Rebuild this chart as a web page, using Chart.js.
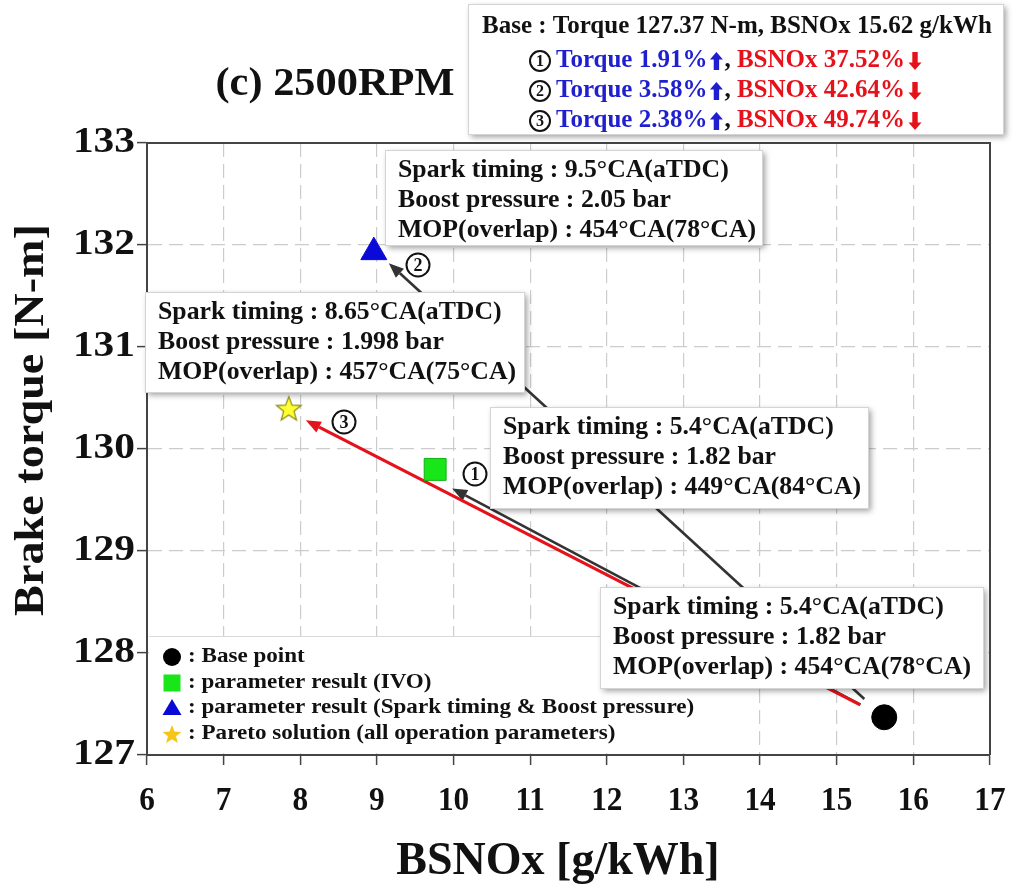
<!DOCTYPE html>
<html>
<head>
<meta charset="utf-8">
<script src="https://cdn.jsdelivr.net/npm/chart.js@4.4.0/dist/chart.umd.min.js"></script>
<style>
  html, body { margin: 0; padding: 0; background: #fff; }
  #wrap { width: 1016px; height: 896px; }
</style>
</head>
<body>
<div id="wrap"><canvas id="torqueChart" width="1016" height="896"></canvas></div>
<script>
(function () {
    "use strict";

    // operating points: base, IVO, spark timing & boost, pareto
    var pointNames = ["Base point", "parameter result (IVO)", "parameter result (Spark timing & Boost pressure)", "Pareto solution (all operation parameters)"];
    var bsnoxValues = [15.62, 9.76, 8.96, 7.85];
    var torqueValues = [127.37, 129.80, 131.93, 130.40];

    var xTicks = [6, 7, 8, 9, 10, 11, 12, 13, 14, 15, 16, 17];
    var yTicks = [127, 128, 129, 130, 131, 132, 133];

    // summary of the three results against the base point
    var baseTorque = "127.37";
    var baseBsnox = "15.62";
    var torqueGain = ["1.91", "3.58", "2.38"];
    var bsnoxDrop = ["37.52", "42.64", "49.74"];

    // operating parameters for each point
    var sparkTiming = ["5.4", "5.4", "9.5", "8.65"];
    var boostPressure = ["1.82", "1.82", "2.05", "1.998"];
    var mopAngle = ["454", "449", "454", "457"];
    var overlapAngle = ["78", "84", "78", "75"];

    var FONT = '"Liberation Serif", "Times New Roman", serif';
    var BLUE = "#1f1fd0";
    var RED = "#e5121b";

    function text(ctx, str, x, y, size, color, align, sx) {
        sx = sx || 1;
        ctx.save();
        ctx.font = "bold " + size + "px " + FONT;
        ctx.fillStyle = color;
        ctx.textBaseline = "middle";
        ctx.textAlign = "left";
        var w = ctx.measureText(str).width * sx;
        var left = align === "center" ? x - w / 2 : (align === "right" ? x - w : x);
        ctx.translate(left, y);
        ctx.scale(sx, 1);
        ctx.fillText(str, 0, 0);
        ctx.restore();
        return w;
    }

    function circledNumber(ctx, n, x, y, r) {
        ctx.save();
        ctx.beginPath();
        ctx.arc(x, y, r, 0, Math.PI * 2);
        ctx.lineWidth = 2;
        ctx.strokeStyle = "#111";
        ctx.stroke();
        ctx.restore();
        text(ctx, String(n), x, y + 1, Math.round(r * 1.55), "#111", "center");
    }

    function blockArrow(ctx, x, y, up, color) {
        // small filled arrow icon, 13 wide and 18 tall, centred on x
        var d = up ? -1 : 1;
        ctx.save();
        ctx.fillStyle = color;
        ctx.beginPath();
        ctx.moveTo(x, y + d * 9);
        ctx.lineTo(x + 6.5, y + d * 1.5);
        ctx.lineTo(x + 2.7, y + d * 1.5);
        ctx.lineTo(x + 2.7, y - d * 9);
        ctx.lineTo(x - 2.7, y - d * 9);
        ctx.lineTo(x - 2.7, y + d * 1.5);
        ctx.lineTo(x - 6.5, y + d * 1.5);
        ctx.closePath();
        ctx.fill();
        ctx.restore();
    }

    function starPath(ctx, cx, cy, outer, inner) {
        ctx.beginPath();
        for (var i = 0; i < 10; i++) {
            var r = i % 2 === 0 ? outer : inner;
            var a = -Math.PI / 2 + i * Math.PI / 5;
            ctx.lineTo(cx + r * Math.cos(a), cy + r * Math.sin(a));
        }
        ctx.closePath();
    }

    function makeStar(r, fill, stroke) {
        var c = document.createElement("canvas");
        var s = Math.ceil(r * 2 + 4);
        c.width = s;
        c.height = s;
        var g = c.getContext("2d");
        starPath(g, s / 2, s / 2 + r * 0.1, r, r * 0.42);
        g.fillStyle = fill;
        g.fill();
        g.lineWidth = 1.2;
        g.strokeStyle = stroke;
        g.stroke();
        return c;
    }

    var marker = [
        { style: "circle", radius: 12.5, fill: "#000", stroke: "#000" },
        { style: "rect", radius: 15.5, fill: "#19e619", stroke: "#12b012" },
        { style: "triangle", radius: 15, fill: "#0a0ad8", stroke: "#0a0ad8" },
        { style: makeStar(13, "#ffff33", "#8c8c14"), radius: 13, fill: "#ffff33", stroke: "#8c8c14" }
    ];

    function arrow(ctx, x1, y1, x2, y2, color, width) {
        var ang = Math.atan2(y2 - y1, x2 - x1);
        var len = 15, half = 6;
        var bx = x2 - len * Math.cos(ang), by = y2 - len * Math.sin(ang);
        ctx.save();
        ctx.strokeStyle = color;
        ctx.fillStyle = color;
        ctx.lineWidth = width;
        ctx.beginPath();
        ctx.moveTo(x1, y1);
        ctx.lineTo(bx, by);
        ctx.stroke();
        ctx.beginPath();
        ctx.moveTo(x2, y2);
        ctx.lineTo(bx + half * Math.sin(ang), by - half * Math.cos(ang));
        ctx.lineTo(bx - half * Math.sin(ang), by + half * Math.cos(ang));
        ctx.closePath();
        ctx.fill();
        ctx.restore();
    }

    function box(ctx, x, y, w, h) {
        ctx.save();
        ctx.shadowColor = "rgba(0,0,0,0.38)";
        ctx.shadowBlur = 6;
        ctx.shadowOffsetX = 3;
        ctx.shadowOffsetY = 3;
        ctx.fillStyle = "#fff";
        ctx.fillRect(x, y, w, h);
        ctx.restore();
        ctx.save();
        ctx.strokeStyle = "#d4d4d4";
        ctx.lineWidth = 1;
        ctx.strokeRect(x + 0.5, y + 0.5, w, h);
        ctx.restore();
    }

    // callout boxes, one per point index
    var callouts = [
        { i: 0, x: 600, y: 587, w: 383, h: 101 },
        { i: 1, x: 490, y: 407, w: 378, h: 101 },
        { i: 2, x: 385, y: 150, w: 377, h: 95 },
        { i: 3, x: 145, y: 292, w: 379, h: 100 }
    ];

    // arrows run from the base point to each result, numbered 1 2 3
    var arrows = [
        { to: 1, n: 1, color: "#333", width: 2.6, tip: [17, 19], num: [475, 474] },
        { to: 2, n: 2, color: "#333", width: 2.6, tip: [15, 11], num: [418, 265] },
        { to: 3, n: 3, color: "#e5121b", width: 3.2, tip: [17, 12], num: [344, 422] }
    ];

    var annotate = {
        id: "annotate",
        beforeDatasetsDraw: function (chart) {
            var ctx = chart.ctx;
            var xs = chart.scales.x, ys = chart.scales.y;
            var bx = xs.getPixelForValue(bsnoxValues[0]);
            var by = ys.getPixelForValue(torqueValues[0]);

            // legend panel
            ctx.save();
            ctx.fillStyle = "#fff";
            ctx.fillRect(149, 636, 580, 117);
            ctx.strokeStyle = "#d8d8d8";
            ctx.lineWidth = 1;
            ctx.beginPath();
            ctx.moveTo(149, 636.5);
            ctx.lineTo(729, 636.5);
            ctx.stroke();
            ctx.restore();

            arrows.forEach(function (a) {
                var tx = xs.getPixelForValue(bsnoxValues[a.to]) + a.tip[0];
                var ty = ys.getPixelForValue(torqueValues[a.to]) + a.tip[1];
                var d = Math.hypot(tx - bx, ty - by);
                var sx = bx + (tx - bx) / d * 27, sy = by + (ty - by) / d * 27;
                arrow(ctx, sx, sy, tx, ty, a.color, a.width);
                circledNumber(ctx, a.n, a.num[0], a.num[1], 11.5);
            });

            callouts.forEach(function (c) {
                box(ctx, c.x, c.y, c.w, c.h);
                var i = c.i;
                var tx = c.x + 13;
                text(ctx, "Spark timing : " + sparkTiming[i] + "\u00b0CA(aTDC)", tx, c.y + 21, 25, "#111", "left", 1.03);
                text(ctx, "Boost pressure : " + boostPressure[i] + " bar", tx, c.y + 51, 25, "#111", "left", 1.03);
                text(ctx, "MOP(overlap) : " + mopAngle[i] + "\u00b0CA(" + overlapAngle[i] + "\u00b0CA)", tx, c.y + 81, 25, "#111", "left", 1.03);
            });

            // legend entries
            var ly = [657, 683, 708, 734];
            pointNames.forEach(function (name, i) {
                var m = marker[i], x = 172, y = ly[i];
                ctx.save();
                ctx.fillStyle = m.fill;
                ctx.strokeStyle = m.stroke;
                if (i === 0) {
                    ctx.beginPath(); ctx.arc(x, y, 9, 0, Math.PI * 2); ctx.fill();
                } else if (i === 1) {
                    ctx.fillRect(x - 8.5, y - 8.5, 17, 17);
                } else if (i === 2) {
                    ctx.beginPath(); ctx.moveTo(x, y - 9); ctx.lineTo(x + 9.5, y + 7); ctx.lineTo(x - 9.5, y + 7); ctx.closePath(); ctx.fill();
                } else {
                    starPath(ctx, x, y + 1, 10, 4.2);
                    ctx.fillStyle = "#f5c518";
                    ctx.fill();
                }
                ctx.restore();
                text(ctx, ": " + name, 188, y, 21, "#111", "left", 1.1);
            });
        },
        afterDraw: function (chart) {
            var ctx = chart.ctx;
            var a = chart.chartArea;
            var xs = chart.scales.x, ys = chart.scales.y;

            // close the frame on top and right
            ctx.save();
            ctx.strokeStyle = "#444";
            ctx.lineWidth = 2;
            ctx.beginPath();
            ctx.moveTo(a.left, a.top);
            ctx.lineTo(a.right, a.top);
            ctx.lineTo(a.right, a.bottom);
            ctx.stroke();
            ctx.restore();

            xTicks.forEach(function (t) {
                text(ctx, String(t), xs.getPixelForValue(t), a.bottom + 46, 34, "#111", "center", 0.92);
            });
            yTicks.forEach(function (t) {
                text(ctx, String(t), a.left - 12, ys.getPixelForValue(t), 36, "#111", "right", 1.15);
            });

            text(ctx, "BSNOx [g/kWh]", 558, 862, 46, "#111", "center", 1.0);
            ctx.save();
            ctx.translate(32, 420);
            ctx.rotate(-Math.PI / 2);
            text(ctx, "Brake torque [N-m]", 0, 0, 42, "#111", "center", 1.1);
            ctx.restore();

            text(ctx, "(c) 2500RPM", 335, 85, 40, "#111", "center", 1.06);

            // summary panel
            box(ctx, 468, 4, 535, 130);
            text(ctx, "Base : Torque " + baseTorque + " N-m, BSNOx " + baseBsnox + " g/kWh", 482, 27, 25, "#111", "left", 1.0);
            var rowY = [61, 91, 121];
            for (var k = 0; k < 3; k++) {
                var y = rowY[k];
                circledNumber(ctx, k + 1, 540, y, 10);
                var x = 556;
                x += text(ctx, "Torque " + torqueGain[k] + "%", x, y, 25, BLUE, "left");
                blockArrow(ctx, x + 9, y, true, BLUE);
                x += 17;
                x += text(ctx, ", ", x, y, 25, "#111", "left");
                x += text(ctx, "BSNOx " + bsnoxDrop[k] + "%", x, y, 25, RED, "left");
                blockArrow(ctx, x + 10, y, false, RED);
            }
        }
    };

    var ctx = document.getElementById("torqueChart").getContext("2d");
    var torqueChart = new Chart(ctx, {
        type: "scatter",
        data: {
            datasets: pointNames.map(function (name, i) {
                return {
                    label: name,
                    data: [{ x: bsnoxValues[i], y: torqueValues[i] }],
                    pointStyle: marker[i].style,
                    pointRadius: marker[i].radius,
                    backgroundColor: marker[i].fill,
                    borderColor: marker[i].stroke,
                    borderWidth: 1
                };
            })
        },
        options: {
            responsive: false,
            animation: false,
            layout: { padding: { left: 137, right: 26, top: 143, bottom: 131 } },
            plugins: {
                legend: { display: false },
                tooltip: { enabled: false }
            },
            scales: {
                x: {
                    type: "linear",
                    min: 6,
                    max: 17,
                    ticks: { stepSize: 1, display: false },
                    grid: { color: "#cccccc", lineWidth: 1.2, tickLength: 10, tickColor: "#444", tickWidth: 1.5 },
                    border: { color: "#444", width: 2, dash: [14, 7] }
                },
                y: {
                    min: 127,
                    max: 133,
                    ticks: { stepSize: 1, display: false },
                    grid: { color: "#cccccc", lineWidth: 1.2, tickLength: 10, tickColor: "#444", tickWidth: 1.5 },
                    border: { color: "#444", width: 2, dash: [14, 7] }
                }
            }
        },
        plugins: [annotate]
    });
})();
</script>
</body>
</html>
